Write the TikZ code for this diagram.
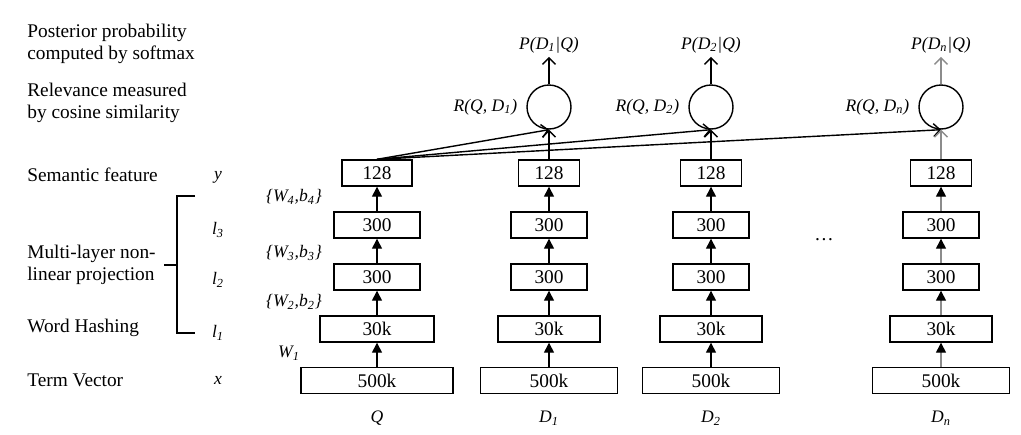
\documentclass[tikz,border=0pt]{standalone}
\usepackage{fontspec}
\setmainfont{Liberation Serif}
\usetikzlibrary{positioning,arrows.meta}
\tikzset{
  layer/.style={draw, line width=0.8pt, minimum height=0.52cm, inner sep=0pt},
  simnode/.style={draw, circle, line width=0.8pt, minimum size=0.88cm, inner sep=0pt},
  uparrow/.style={-{Triangle[length=2mm, width=2mm, color=black]}, line width=0.8pt},
  openarrow/.style={-{Straight Barb[length=1.3mm, width=2.6mm]}, line width=0.8pt},
  sidetext/.style={anchor=west, align=left, inner sep=0pt},
  varlabel/.style={font=\itshape, inner sep=0pt},
  faded/.style={draw=black!45}
}

\begin{document}
\begin{tikzpicture}[x=0.02cm, y=-0.02cm, every node/.style={font=\fontsize{11}{12.5}\selectfont}]
  \useasboundingbox (0,0) rectangle (1021,434);

  % descriptions on the left
  \node[sidetext] (post) at (27,44) {Posterior probability\\computed by softmax};
  \node[sidetext] (rel) at (27,103) {Relevance measured\\by cosine similarity};
  \node[sidetext] (sem) at (27,175) {Semantic feature};
  \node[sidetext] (mlp) at (27,265) {Multi-layer non-\\linear projection};
  \node[sidetext] (hash) at (27,328) {Word Hashing};
  \node[sidetext] (term) at (27,380) {Term Vector};

  \node[varlabel] (vy) at (218,177) {y};
  \node[varlabel] (vl3) at (218,230) {l\textsubscript{3}};
  \node[varlabel] (vl2) at (218,280) {l\textsubscript{2}};
  \node[varlabel] (vl1) at (218,333) {l\textsubscript{1}};
  \node[varlabel] (vx) at (218,380) {x};
  \draw[line width=0.8pt] (195,196) -| (177,333) -- (195,333);
  \draw[line width=0.8pt] (164,265) -- (177,265);

  \node[varlabel] (w4) at (294,197) {\{W\textsubscript{4},b\textsubscript{4}\}};
  \node[varlabel] (w3) at (294,253) {\{W\textsubscript{3},b\textsubscript{3}\}};
  \node[varlabel] (w2) at (294,302) {\{W\textsubscript{2},b\textsubscript{2}\}};
  \node[varlabel] (w1) at (289,353) {W\textsubscript{1}};

  % query tower
  \node[layer, minimum width=3.04cm] (xq) at (377,380.5) {500k};
  \node[layer, minimum width=2.28cm] (l1q) at (377,329) {30k};
  \node[layer, minimum width=1.72cm] (l2q) at (377,277) {300};
  \node[layer, minimum width=1.72cm] (l3q) at (377,225) {300};
  \node[layer, minimum width=1.40cm] (yq) at (377,173) {128};
  \node[varlabel] (q) at (377,418) {Q};

  % document towers
  \node[layer, minimum width=2.74cm] (xa) at (549,380.5) {500k};
  \node[layer, minimum width=2.04cm] (l1a) at (549,329) {30k};
  \node[layer, minimum width=1.52cm] (l2a) at (549,277) {300};
  \node[layer, minimum width=1.52cm] (l3a) at (549,225) {300};
  \node[layer, minimum width=1.22cm] (ya) at (549,173) {128};
  \node[varlabel] (da) at (549,418) {D\textsubscript{1}};

  \node[layer, minimum width=2.74cm] (xb) at (711,380.5) {500k};
  \node[layer, minimum width=2.04cm] (l1b) at (711,329) {30k};
  \node[layer, minimum width=1.52cm] (l2b) at (711,277) {300};
  \node[layer, minimum width=1.52cm] (l3b) at (711,225) {300};
  \node[layer, minimum width=1.22cm] (yb) at (711,173) {128};
  \node[varlabel] (db) at (711,418) {D\textsubscript{2}};

  \node[layer, minimum width=2.74cm] (xn) at (941,380.5) {500k};
  \node[layer, minimum width=2.04cm] (l1n) at (941,329) {30k};
  \node[layer, minimum width=1.52cm] (l2n) at (941,277) {300};
  \node[layer, minimum width=1.52cm] (l3n) at (941,225) {300};
  \node[layer, minimum width=1.22cm] (yn) at (941,173) {128};
  \node[varlabel] (dn) at (941,418) {D\textsubscript{n}};

  \node (dots) at (824,240) {\dots};

  % cosine similarity and softmax
  \node[simnode] (ra) at (549,107) {};
  \node[simnode] (rb) at (711,107) {};
  \node[simnode] (rn) at (941,107) {};
  \node[varlabel, left=5pt of ra] {R(Q, D\textsubscript{1})};
  \node[varlabel, left=5pt of rb] {R(Q, D\textsubscript{2})};
  \node[varlabel, left=5pt of rn] {R(Q, D\textsubscript{n})};
  \node[varlabel] (pa) at (549,45) {P(D\textsubscript{1}|Q)};
  \node[varlabel] (pb) at (711,45) {P(D\textsubscript{2}|Q)};
  \node[varlabel] (pn) at (941,45) {P(D\textsubscript{n}|Q)};

  \draw[uparrow] (xq) -- (l1q);
  \draw[uparrow] (l1q) -- (l2q);
  \draw[uparrow] (l2q) -- (l3q);
  \draw[uparrow] (l3q) -- (yq);
  \draw[uparrow] (xa) -- (l1a);
  \draw[uparrow] (l1a) -- (l2a);
  \draw[uparrow] (l2a) -- (l3a);
  \draw[uparrow] (l3a) -- (ya);
  \draw[uparrow] (xb) -- (l1b);
  \draw[uparrow] (l1b) -- (l2b);
  \draw[uparrow] (l2b) -- (l3b);
  \draw[uparrow] (l3b) -- (yb);
  \draw[uparrow, faded] (xn) -- (l1n);
  \draw[uparrow, faded] (l1n) -- (l2n);
  \draw[uparrow, faded] (l2n) -- (l3n);
  \draw[uparrow, faded] (l3n) -- (yn);

  \draw[openarrow] (yq.north) -- (ra.south);
  \draw[openarrow] (yq.north) -- (rb.south);
  \draw[openarrow] (yq.north) -- (rn.south);
  \draw[openarrow] (ya) -- (ra);
  \draw[openarrow] (yb) -- (rb);
  \draw[openarrow, faded] (yn) -- (rn);
  \draw[openarrow, shorten >=2pt] (ra) -- (pa);
  \draw[openarrow, shorten >=2pt] (rb) -- (pb);
  \draw[openarrow, faded, shorten >=2pt] (rn) -- (pn);
\end{tikzpicture}
\end{document}
